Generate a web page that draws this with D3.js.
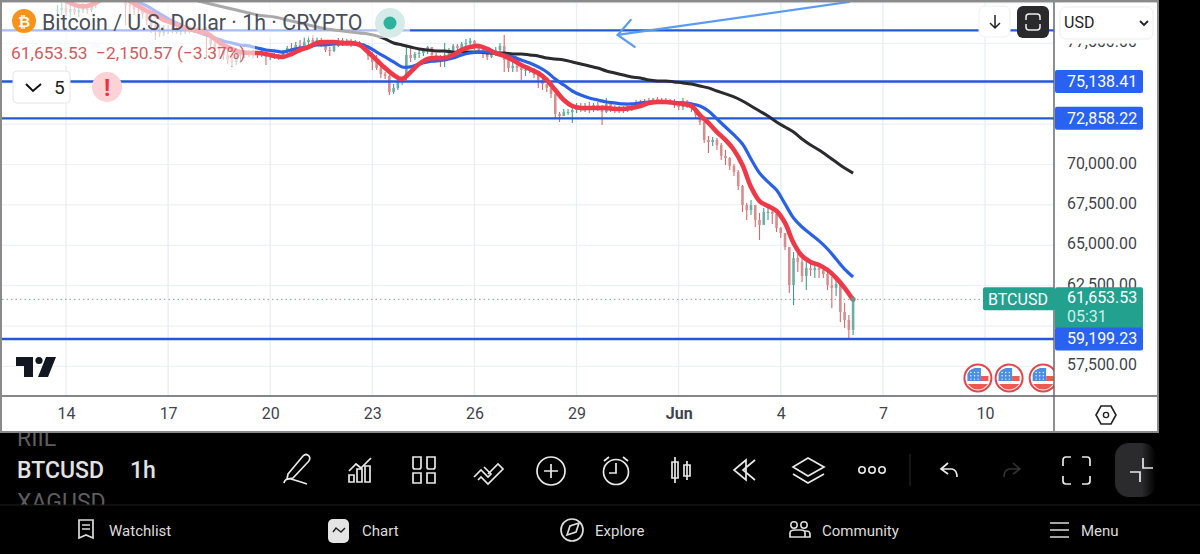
<!DOCTYPE html>
<html>
<head>
<meta charset="utf-8">
<script src="https://cdn.jsdelivr.net/npm/d3@7"></script>
<style>
  html, body { margin: 0; padding: 0; background: #000; overflow: hidden; }
  svg { display: block; font-family: Roboto, sans-serif; }
</style>
</head>
<body>
<div id="chart"></div>
<script>
// Values. Candles are one per 3 hours, EMAs one per 6 hours,
// all of them end at the last bar (hour 555 counted from May 14 00:00).
var candleHigh = [79870,80060,80000,79870,79940,79810,80000,79870,80060,80370,80680,80930,81050,81170,81110,80930,80680,80180,80000,79810,79690,79440,79190,78950,78700,78640,78640,78570,78510,78570,78510,78570,78510,78510,78450,78510,78140,77710,77580,77400,77270,77090,76960,77090,77090,77090,77090,76960,77090,77090,76900,76900,76840,77090,77340,77520,77580,77710,77890,77960,78020,77890,77830,77580,77270,77520,77830,77830,77770,77770,77710,77650,77520,77340,76960,76780,76100,75730,75540,74980,75230,75480,77270,77210,76960,77090,77210,77340,77270,76900,76780,77520,77210,77460,77460,77580,77770,77830,77710,77460,77210,76960,77090,77270,77520,78020,76590,76350,76280,76100,76100,76040,75970,75730,75480,74980,74740,74370,73250,73440,73440,73620,73810,73810,73810,73870,73810,73870,73680,74120,73810,73680,73620,73620,73620,73680,73990,73990,74060,74120,74120,74180,74120,74120,74060,74060,73870,74120,73990,73810,73560,73190,72630,71770,71700,71640,71330,70900,70470,70030,69660,68730,67620,67800,67490,67000,67310,67370,67250,67060,66130,65760,64890,64580,64580,64210,63970,63900,63840,63720,63590,63470,63040,63100,62670,61430,60680,61860];
var candleLow = [79320,79260,79190,79070,79260,79130,79380,79320,79440,79690,80000,80370,80490,80550,80430,80310,78640,79320,79260,79130,79010,78640,78140,77710,77890,77960,78080,78140,78080,78020,78080,78140,78140,78080,78080,76590,77090,76780,76660,76470,76220,76040,76160,76350,76590,76660,76590,76590,76660,76160,76470,76530,76470,76590,76780,76900,76960,76900,77150,77340,77270,77400,77270,76960,76720,76960,77270,77340,77340,77270,77340,77270,77030,76470,75850,75850,75360,75290,74300,74370,74610,74920,75230,76350,76470,76590,76720,76840,76590,76350,76040,76040,76590,76840,76900,77090,77210,77270,77090,76840,76590,76470,76590,76720,76840,75730,75730,75730,75730,75230,75480,75660,75360,74740,74610,74490,74120,72880,72630,73000,73060,72570,73190,73250,73250,73190,73250,73310,72450,73190,73250,73190,73190,73190,73250,73310,73560,73680,73750,73750,73810,73810,73810,73810,73750,73500,73370,73370,73500,73250,72880,72450,71330,70710,71150,70900,70280,69970,69660,69290,68420,67060,66570,66880,66130,65330,66320,66570,66320,65820,65450,64710,62050,61300,63340,62730,62230,63100,62980,62980,62980,62230,61110,61860,60250,59880,59200,59450];
var candleClose = [79560,79690,79440,79630,79440,79560,79750,79560,79870,80180,80490,80680,80800,80930,80680,80550,79870,79810,79560,79500,79320,78950,78570,78330,78140,78390,78260,78450,78200,78330,78390,78260,78390,78330,78260,78080,77460,77210,77090,76780,76470,76350,76720,76840,76900,76960,76840,76780,76900,76660,76720,76780,76660,76960,77210,77090,77400,77210,77580,77710,77520,77710,77400,77090,77030,77340,77710,77580,77650,77460,77580,77400,77150,76720,76350,75970,75600,75480,74490,74740,75110,75360,76780,76590,76840,76900,77030,77270,76780,76590,76470,76780,77090,77340,77210,77460,77520,77650,77340,77090,76840,76660,76840,77090,77340,76470,75970,76100,75970,75850,75850,75910,75540,75230,74980,74740,74370,73130,73000,73250,73250,73370,73620,73500,73620,73440,73680,73560,73250,73750,73500,73370,73500,73310,73500,73620,73870,73810,73930,73870,74060,73990,73930,73990,73870,73680,73560,73930,73680,73500,73060,72630,71520,71390,71520,71210,70530,70400,69910,69540,68670,67490,67180,67490,66570,66260,67060,67060,66940,66070,65760,64890,62540,64210,63970,63100,63590,63470,63590,63470,63220,62540,62360,62600,60870,60380,59760,61653.53];

var emaRed = [80310,80000,79810,79810,80000,80370,80680,80490,80120,79810,79500,79260,78950,78760,78570,78390,78260,78140,77770,77400,77150,76960,76900,76900,76840,76720,76660,76840,77090,77270,77520,77580,77580,77520,77520,77400,76960,76470,75970,75540,75290,75730,76220,76530,76590,76590,76780,77090,77270,77340,77150,76900,76720,76470,76160,75910,75660,75230,74610,73990,73620,73500,73500,73500,73500,73440,73440,73500,73620,73810,73870,73870,73810,73750,73620,73060,72570,72010,71520,70900,69970,68610,67740,67430,67120,66380,65140,64340,63970,63780,63470,62980,62360,61610];
var emaBlue = [80310,80060,79810,79500,79190,78880,78640,78390,78200,78020,77830,77650,77520,77400,77340,77210,77090,77030,76960,77090,77210,77270,77400,77400,77460,77460,77460,77460,77270,76960,76660,76350,76040,76040,76220,76350,76410,76470,76590,76780,76900,76960,76960,76900,76780,76660,76470,76280,76040,75730,75290,74920,74550,74300,74120,73990,73870,73810,73750,73750,73810,73870,73870,73870,73810,73810,73750,73620,73310,72820,72320,71830,71270,70340,69470,68920,68420,67560,66690,66130,65700,65270,64770,64150,63530,63040];
var emaBlack = [80120,80000,79870,79750,79630,79500,79380,79260,79190,79130,79010,78880,78760,78640,78510,78390,78330,78260,78200,78140,78080,77960,77770,77520,77400,77270,77150,77090,77030,77030,76960,76960,76960,76960,76900,76900,76900,76840,76840,76780,76720,76590,76530,76470,76350,76220,76100,75970,75790,75660,75540,75420,75360,75230,75170,75170,75110,75050,74980,74860,74740,74550,74370,74180,73930,73620,73310,73000,72630,72320,72010,71580,71210,70900,70530,70150,69780,69470];

var levels = [78300, 75138.41, 72858.22, 59199.23];
var levelLabels = ["75,138.41", "72,858.22", "59,199.23"];
var gridPrices = [80000, 77500, 75000, 72500, 70000, 67500, 65000, 62500, 60000, 57500];
var labelPrices = [77500, 70000, 67500, 65000, 62500, 57500]; // the others sit behind price tags
var dateTicks = ["2024-05-14","2024-05-17","2024-05-20","2024-05-23","2024-05-26","2024-05-29","2024-06-01","2024-06-04","2024-06-07","2024-06-10"];
var lastPrice = 61653.53;
var arrowPrices = [78020, 80060];
var arrowHours = [389, 552];
var flagHours = [643, 665, 689];

var W = 1200, H = 554;
var plotRight = 1054, plotBottom = 396, frameRight = 1157, frameBottom = 431;

var svg = d3.select("#chart").append("svg").attr("width", W).attr("height", H);

var parseDay = d3.utcParse("%Y-%m-%d");
var t0 = parseDay("2024-05-14");
var x = d3.scaleUtc().domain([t0, parseDay("2024-06-10")]).range([66, 985]);
var y = d3.scaleLinear().domain([80000, 57500]).range([2.95, 366.45]);
function hourDate(h) { return d3.utcHour.offset(t0, h); }

// chart background and clips
svg.append("rect").attr("x", 0).attr("y", 0).attr("width", frameRight + 2).attr("height", frameBottom + 2).attr("fill", "#fff");
var defs = svg.append("defs");
defs.append("clipPath").attr("id", "plotClip").append("rect").attr("x", 2).attr("y", 2).attr("width", plotRight - 2).attr("height", plotBottom - 2);
defs.append("clipPath").attr("id", "axisClip").append("rect").attr("x", plotRight).attr("y", 43.5).attr("width", 103).attr("height", plotBottom - 43.5);
defs.append("clipPath").attr("id", "barClip").append("rect").attr("x", 0).attr("y", 433).attr("width", W).attr("height", 72);
var fade = defs.append("linearGradient").attr("id", "btnFade");
fade.append("stop").attr("offset", "0.65").attr("stop-color", "#2b2b2d");
fade.append("stop").attr("offset", "1").attr("stop-color", "#000");

var plot = svg.append("g").attr("clip-path", "url(#plotClip)");

// grid
plot.selectAll(".gridH").data(gridPrices).enter().append("line")
  .attr("x1", 2).attr("x2", plotRight)
  .attr("y1", function (d) { return y(d); }).attr("y2", function (d) { return y(d); })
  .attr("stroke", "#eef1f5").attr("stroke-width", 1.2);
plot.selectAll(".gridV").data(dateTicks).enter().append("line")
  .attr("x1", function (d) { return x(parseDay(d)); }).attr("x2", function (d) { return x(parseDay(d)); })
  .attr("y1", 2).attr("y2", plotBottom)
  .attr("stroke", "#eaeff5").attr("stroke-width", 1.4);

// candles
var candles = candleClose.map(function (c, i) {
  return {
    t: hourDate(555 - 3 * (candleClose.length - 1 - i)),
    open: i === 0 ? c : candleClose[i - 1],
    high: candleHigh[i], low: candleLow[i], close: c
  };
});
var cg = plot.append("g");
cg.selectAll("line").data(candles).enter().append("line")
  .attr("x1", function (d) { return x(d.t); }).attr("x2", function (d) { return x(d.t); })
  .attr("y1", function (d) { return y(d.high); }).attr("y2", function (d) { return y(d.low); })
  .attr("stroke", function (d) { return d.close >= d.open ? "#3f9c90" : "#d4696d"; })
  .attr("stroke-width", 1.1);
cg.selectAll("rect").data(candles).enter().append("rect")
  .attr("x", function (d) { return x(d.t) - 1.3; }).attr("width", 2.6)
  .attr("y", function (d) { return y(Math.max(d.open, d.close)); })
  .attr("height", function (d) { return Math.max(1, Math.abs(y(d.open) - y(d.close))); })
  .attr("fill", function (d) { return d.close >= d.open ? "#6caea4" : "#d68e8e"; });

// levels
plot.selectAll(".level").data(levels).enter().append("line")
  .attr("x1", 2).attr("x2", plotRight)
  .attr("y1", function (d) { return y(d); }).attr("y2", function (d) { return y(d); })
  .attr("stroke", "#2558d8").attr("stroke-width", 2.4);

// moving averages
function drawEma(values, color, width) {
  var line = d3.line()
    .x(function (d, i) { return x(hourDate(555 - 6 * (values.length - 1 - i))); })
    .y(function (d) { return y(d); })
    .curve(d3.curveCatmullRom);
  plot.append("path").attr("d", line(values)).attr("fill", "none")
    .attr("stroke", color).attr("stroke-width", width).attr("stroke-linejoin", "round");
}
drawEma(emaBlack, "#2b2b2e", 3);
drawEma(emaBlue, "#2a60e4", 3.2);
drawEma(emaRed, "#ee3a48", 4.6);

// drawn arrow
var tipX = x(hourDate(arrowHours[0])), tipY = y(arrowPrices[0]);
var arrow = plot.append("g").attr("stroke", "#5b9cf0").attr("stroke-width", 2.2).attr("fill", "none").attr("stroke-linecap", "round");
arrow.append("line").attr("x1", tipX).attr("y1", tipY).attr("x2", x(hourDate(arrowHours[1]))).attr("y2", y(arrowPrices[1]));
arrow.append("path").attr("d", "M" + (tipX + 13) + "," + (tipY - 15) + "L" + tipX + "," + tipY + "L" + (tipX + 17) + "," + (tipY + 12));

// last price dotted line and last price dot
plot.append("line").attr("x1", 2).attr("x2", 983)
  .attr("y1", y(lastPrice)).attr("y2", y(lastPrice))
  .attr("stroke", "#8f9aa0").attr("stroke-width", 1).attr("stroke-dasharray", "1.5 3");
plot.append("circle").attr("cx", x(hourDate(555))).attr("cy", y(lastPrice)).attr("r", 2.5).attr("fill", "#7d8a86");

// header veils over the series
svg.append("rect").attr("x", 2).attr("y", 2).attr("width", 408).attr("height", 36).attr("fill", "#fff").attr("opacity", 0.6);
svg.append("rect").attr("x", 2).attr("y", 38).attr("width", 253).attr("height", 28).attr("fill", "#fff").attr("opacity", 0.6);

// header
svg.append("circle").attr("cx", 24).attr("cy", 21).attr("r", 12).attr("fill", "#f7931a");
svg.append("text").attr("x", 24).attr("y", 26.5).attr("text-anchor", "middle").attr("fill", "#fff").attr("font-size", 15).attr("font-weight", 700).text("₿");
svg.append("text").attr("x", 42).attr("y", 29.5).attr("font-size", 21.4).attr("fill", "#4a4e5a").text("Bitcoin / U.S. Dollar · 1h · CRYPTO");
svg.append("circle").attr("cx", 390).attr("cy", 23).attr("r", 15).attr("fill", "#d4ebe8");
svg.append("circle").attr("cx", 390).attr("cy", 23).attr("r", 6.5).attr("fill", "#2bb39c");
svg.append("text").attr("x", 11).attr("y", 59).attr("font-size", 17.4).attr("fill", "#cf5a5f").attr("xml:space", "preserve").text("61,653.53  −2,150.57 (−3.37%)");

svg.append("rect").attr("x", 13).attr("y", 71).attr("width", 57).attr("height", 32).attr("rx", 4).attr("fill", "#fff").attr("stroke", "#e6e6e6");
svg.append("path").attr("d", "M26,84L33,91L41,84").attr("fill", "none").attr("stroke", "#111").attr("stroke-width", 2);
svg.append("text").attr("x", 54).attr("y", 94).attr("font-size", 19).attr("fill", "#222").text("5");
svg.append("circle").attr("cx", 107).attr("cy", 87).attr("r", 15).attr("fill", "#fbd2d6");
svg.append("text").attr("x", 107).attr("y", 96).attr("text-anchor", "middle").attr("font-size", 23).attr("font-weight", 700).attr("fill", "#f0303f").text("!");

// top right buttons
svg.append("rect").attr("x", 979).attr("y", 6).attr("width", 31).attr("height", 31).attr("rx", 6).attr("fill", "#fff").attr("stroke", "#f0f0f0");
svg.append("path").attr("d", "M995,15V28M990,23L995,28L1000,23").attr("fill", "none").attr("stroke", "#222").attr("stroke-width", 1.5);
svg.append("rect").attr("x", 1017).attr("y", 6).attr("width", 32).attr("height", 32).attr("rx", 6).attr("fill", "#2a2a2c");
svg.append("path").attr("d", "M1026,20V17Q1026,14 1029,14H1037Q1040,14 1040,17V20M1026,24V27Q1026,30 1029,30H1037Q1040,30 1040,27V24")
  .attr("fill", "none").attr("stroke", "#eee").attr("stroke-width", 1.5);

// trade logo
var logo = svg.append("g").attr("fill", "#131722");
logo.append("path").attr("d", "M16,357H33V377H24V366H16Z");
logo.append("circle").attr("cx", 39).attr("cy", 360.5).attr("r", 3.6);
logo.append("path").attr("d", "M46,357H56L48,377H38Z");

// event flags
var flags = svg.append("g").attr("clip-path", "url(#plotClip)");
flagHours.forEach(function (h) {
  var g = flags.append("g").attr("transform", "translate(" + x(hourDate(h)) + ",378)");
  g.append("circle").attr("r", 13.5).attr("fill", "#fff").attr("stroke", "#e0474c").attr("stroke-width", 2);
  g.append("path").attr("d", "M3,-2H10.5V3H3Z").attr("fill", "#ef5a50");
  g.append("path").attr("d", "M-10,6H10Q6,11.5 0,11.5Q-6,11.5 -10,6Z").attr("fill", "#ef5a50");
  g.append("path").attr("d", "M-10.5,3V-4Q-9,-8.5 -3,-10H3V3Z").attr("fill", "#4a8fe0");
  d3.range(3).forEach(function (r) {
    d3.range(3).forEach(function (c) {
      g.append("circle").attr("cx", -7 + c * 3.6).attr("cy", -5.5 + r * 3.3).attr("r", 0.7).attr("fill", "#fff");
    });
  });
});

// axis frame
svg.append("line").attr("x1", plotRight).attr("x2", plotRight).attr("y1", 2).attr("y2", frameBottom).attr("stroke", "#5c5f66").attr("stroke-width", 1.4);
svg.append("line").attr("x1", 2).attr("x2", frameRight).attr("y1", plotBottom).attr("y2", plotBottom).attr("stroke", "#5c5f66").attr("stroke-width", 1.4);

// price axis
var yAxis = d3.axisRight(y).tickValues(labelPrices).tickSize(0).tickPadding(13).tickFormat(d3.format(",.2f"));
var yAxisG = svg.append("g").attr("clip-path", "url(#axisClip)").append("g").attr("transform", "translate(" + plotRight + ",0)").call(yAxis);
yAxisG.select(".domain").remove();
yAxisG.selectAll("text").attr("font-family", "Roboto, sans-serif").attr("font-size", 15.9).attr("fill", "#3f434d").attr("dy", "0.22em");

// time axis
var xAxis = d3.axisBottom(x).tickValues(dateTicks.map(parseDay)).tickSize(0).tickPadding(12)
  .tickFormat(function (d) { return d.getUTCDate() === 1 ? "Jun" : d.getUTCDate(); });
var xAxisG = svg.append("g").attr("transform", "translate(0," + plotBottom + ")").call(xAxis);
xAxisG.select(".domain").remove();
xAxisG.selectAll("text").attr("font-family", "Roboto, sans-serif").attr("font-size", 16).attr("fill", "#3f434d")
  .attr("font-weight", function (d) { return d.getUTCDate() === 1 ? 700 : 400; });

svg.append("path").attr("d", "M1096,415L1101,406H1111L1116,415L1111,424H1101Z").attr("fill", "none").attr("stroke", "#222").attr("stroke-width", 1.6);
svg.append("circle").attr("cx", 1106).attr("cy", 415).attr("r", 2.6).attr("fill", "none").attr("stroke", "#222").attr("stroke-width", 1.4);

// currency box
svg.append("rect").attr("x", 1060).attr("y", 7).attr("width", 93).attr("height", 32).attr("rx", 6).attr("fill", "#fff").attr("stroke", "#ededed");
svg.append("text").attr("x", 1064).attr("y", 28).attr("font-size", 16).attr("fill", "#1f2229").text("USD");
svg.append("path").attr("d", "M1140,21L1144,25L1148,21").attr("fill", "none").attr("stroke", "#1f2229").attr("stroke-width", 1.8);

// price tags
function tag(xPos, yTop, w, h, color) {
  svg.append("rect").attr("x", xPos).attr("y", yTop).attr("width", w).attr("height", h).attr("rx", 2).attr("fill", color);
}
tag(983, y(lastPrice) - 12, 72, 23, "#22a18f");
tag(1055, y(lastPrice) - 12, 88, 42, "#22a18f");
levels.slice(1).forEach(function (v, i) {
  tag(1055, y(v) - 11.5, 88, 23, "#2962f0");
  svg.append("text").attr("x", 1067).attr("y", y(v) + 5.5).attr("font-size", 16).attr("fill", "#fff").text(levelLabels[i]);
});
svg.append("text").attr("x", 988).attr("y", y(lastPrice) + 5.5).attr("font-size", 16).attr("fill", "#fff").text("BTCUSD");
svg.append("text").attr("x", 1067).attr("y", y(lastPrice) + 4).attr("font-size", 16).attr("fill", "#fff").text(d3.format(",.2f")(lastPrice));
svg.append("text").attr("x", 1067).attr("y", y(lastPrice) + 23).attr("font-size", 16).attr("fill", "#cfeee8").text("05:31");

// frame
svg.append("rect").attr("x", 0).attr("y", 0).attr("width", 2).attr("height", frameBottom + 2).attr("fill", "#8a8a8a");
svg.append("rect").attr("x", 0).attr("y", 0).attr("width", frameRight + 2).attr("height", 2.4).attr("fill", "#8a8a8a");
svg.append("rect").attr("x", frameRight).attr("y", 0).attr("width", 2).attr("height", frameBottom + 2).attr("fill", "#8a8a8a");
svg.append("rect").attr("x", 0).attr("y", frameBottom).attr("width", frameRight + 2).attr("height", 2).attr("fill", "#8a8a8a");

// bottom app bar
var symbolNames = ["RIIL", "BTCUSD", "XAGUSD"];
var symbolY = [446, 478, 510];
var bar = svg.append("g").attr("clip-path", "url(#barClip)");
symbolNames.forEach(function (name, i) {
  bar.append("text").attr("x", 17).attr("y", symbolY[i]).attr("font-size", 23).attr("font-weight", i === 1 ? 500 : 400)
    .attr("fill", i === 1 ? "#e2e2e2" : "#5e5e5e").text(name);
});
bar.append("text").attr("x", 130).attr("y", 478).attr("font-size", 23).attr("font-weight", 500).attr("fill", "#e2e2e2").text("1h");
svg.append("line").attr("x1", 0).attr("x2", W).attr("y1", 505).attr("y2", 505).attr("stroke", "#1f1f1f");
svg.append("rect").attr("x", 1115).attr("y", 443).attr("width", 41).attr("height", 54).attr("rx", 14).attr("fill", "url(#btnFade)");

var toolIcons = [
  "M284,483Q285,478 291,479Q298,481 307,484M288,474L303,456Q306,453 309,456Q311,459 308,462L293,478L287,479Z",
  "M349,482V475H354V482ZM357,482V469H362V482ZM365,482V466H370V482ZM349,471L356,464L361,468L371,458",
  "M413,457H421V467Q421,469 419,469H415Q413,469 413,467ZM427,457H435V467Q435,469 433,469H429Q427,469 427,467ZM413,473H421V483H413ZM427,473H435V483H427Z",
  "M474,477L481,470L488,477L491,474L484,467M478,480L481,477L488,484L503,469L498,464L488,474",
  "M551,464V478M544,471H558",
  "M616,463V473H609M604,461L609,457M628,461L623,457",
  "M675,457V483M672,462H678V478H672ZM687,461V480M684,465H690V476H684Z",
  "M746,460L734,470L746,480ZM755,460L743,470L755,480",
  "M808,458L824,467L808,476L793,467ZM793,474L808,483L824,474",
  "M948,463L941,469L948,474M941,469H952Q957,470 957,477",
  "M1071,457H1066Q1063,457 1063,460V466M1082,457H1087Q1090,457 1090,460V466M1071,484H1066Q1063,484 1063,481V476M1082,484H1087Q1090,484 1090,481V476"
];
svg.append("g").attr("fill", "none").attr("stroke", "#e8e8e8").attr("stroke-width", 1.7)
  .selectAll("path").data(toolIcons).enter().append("path").attr("d", function (d) { return d; });
svg.append("circle").attr("cx", 551).attr("cy", 471).attr("r", 14).attr("fill", "none").attr("stroke", "#e8e8e8").attr("stroke-width", 1.7);
svg.append("circle").attr("cx", 616).attr("cy", 472).attr("r", 12.5).attr("fill", "none").attr("stroke", "#e8e8e8").attr("stroke-width", 1.7);
[862, 872, 882].forEach(function (cx) {
  svg.append("circle").attr("cx", cx).attr("cy", 470).attr("r", 3.2).attr("fill", "none").attr("stroke", "#e8e8e8").attr("stroke-width", 1.6);
});
svg.append("line").attr("x1", 910).attr("x2", 910).attr("y1", 454).attr("y2", 486).attr("stroke", "#2c2c2c");
svg.append("path").attr("d", "M1013,463L1020,469L1013,474M1020,469H1009Q1004,470 1004,477").attr("fill", "none").attr("stroke", "#333").attr("stroke-width", 1.6);
svg.append("path").attr("d", "M1143,458V468H1153M1130,472H1140V482").attr("fill", "none").attr("stroke", "#e8e8e8").attr("stroke-width", 1.7);

var navLabels = ["Watchlist", "Chart", "Explore", "Community", "Menu"];
var navX = [109, 362, 595, 822, 1081];
svg.selectAll(".nav").data(navLabels).enter().append("text")
  .attr("x", function (d, i) { return navX[i]; }).attr("y", 535.5)
  .attr("font-size", 15).attr("font-weight", 400).attr("fill", "#dcdcdc").text(function (d) { return d; });
var navIcons = [
  "M79,520H93V538L86,535L79,538ZM82,525H90M82,529H90",
  "M567,535L570,526L579,523L576,532Z",
  "M790,537V533Q790,530 795,530H801Q805,530 805,533V537ZM804,537H810V534Q810,531 806,531H804",
  "M1050,523H1069M1050,530H1069M1050,537H1069"
];
svg.append("g").attr("fill", "none").attr("stroke", "#dcdcdc").attr("stroke-width", 1.7)
  .selectAll("path").data(navIcons).enter().append("path").attr("d", function (d) { return d; });
svg.append("rect").attr("x", 328).attr("y", 519).attr("width", 21).attr("height", 24).attr("rx", 5).attr("fill", "#e4e4e4");
svg.append("path").attr("d", "M333,532L336,528L341,532L345,528").attr("fill", "none").attr("stroke", "#222").attr("stroke-width", 1.5);
svg.append("circle").attr("cx", 572).attr("cy", 530).attr("r", 11).attr("fill", "none").attr("stroke", "#dcdcdc").attr("stroke-width", 1.7);
svg.append("circle").attr("cx", 794).attr("cy", 525).attr("r", 3.2).attr("fill", "none").attr("stroke", "#dcdcdc").attr("stroke-width", 1.5);
svg.append("circle").attr("cx", 804).attr("cy", 525).attr("r", 3.2).attr("fill", "none").attr("stroke", "#dcdcdc").attr("stroke-width", 1.5);
</script>
</body>
</html>
